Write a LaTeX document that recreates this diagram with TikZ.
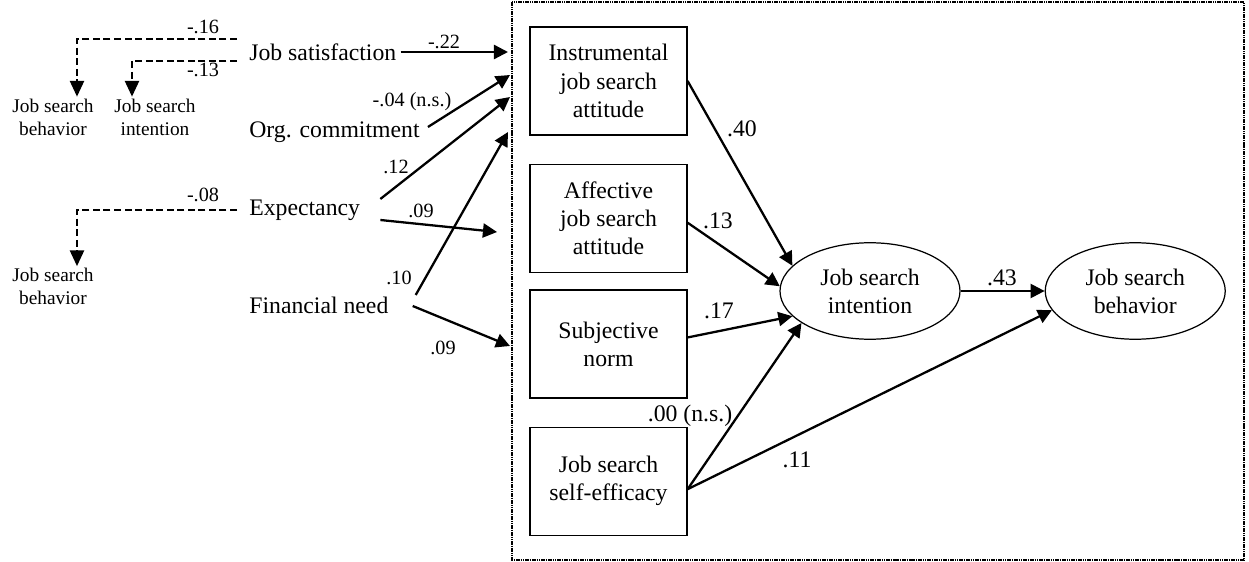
\documentclass[tikz,border=0pt]{standalone}
\usepackage{fontspec}
\setmainfont{Liberation Serif}
\usetikzlibrary{arrows.meta, shapes.geometric, positioning}

\newcommand\mainsz{\fontsize{13.5}{16}\selectfont}
\newcommand\coefsz{\fontsize{11.5}{13.5}\selectfont}
\newcommand\outsz{\fontsize{11}{13}\selectfont}

\begin{document}
\begin{tikzpicture}[
  node distance=0.56cm and 1.68cm,
  box/.style={rectangle, draw, line width=0.7pt,
              minimum width=3.14cm, minimum height=2.16cm,
              font=\mainsz, align=center, inner sep=1pt},
  latent/.style={ellipse, draw, line width=0.7pt,
                 minimum width=3.6cm, minimum height=1.93cm,
                 font=\mainsz, align=center, inner sep=0pt},
  var/.style={font=\mainsz, inner sep=0pt, anchor=west},
  outcome/.style={font=\outsz, align=center, inner sep=1pt},
  coef/.style={font=\coefsz, inner sep=0pt},
  incoef/.style={font=\mainsz, inner sep=0pt},
  arrow/.style={-{Triangle[length=8pt, width=8pt]}, line width=1.3pt},
  dasharrow/.style={-{Triangle[length=9pt, width=8pt]}, line width=1.3pt,
                    dash pattern=on 4pt off 2pt},
  frame/.style={draw, line width=1.5pt, dash pattern=on 0.9pt off 0.4pt},
]
  \useasboundingbox (0,0) rectangle (24.98,-11.24);

  % model frame
  \draw[frame] (10.24,-0.04) rectangle (24.88,-11.2);

  % TPB predictors
  \node[box] (instr) at (12.17,-1.62) {Instrumental\\job search\\attitude};
  \node[box, below=0.56cm of instr] (affect) {Affective\\job search\\attitude};
  \node[box, below=0.33cm of affect] (subj) {Subjective\\norm};
  \node[box, below=0.56cm of subj] (effic) {Job search\\self-efficacy};

  \node[latent] (intent) at (17.40,-5.82) {Job search\\intention};
  \node[latent, right=of intent] (behav) {Job search\\behavior};

  % antecedents
  \node[var] (sat)    at (4.98,-1.04) {Job satisfaction};
  \node[var] (commit) at (4.98,-2.64) {Org. commitment};
  \node[var] (expect) at (4.98,-4.20) {Expectancy};
  \node[var] (need)   at (4.98,-6.10) {Financial need};

  \node[outcome] (jsbA) at (1.06,-2.34) {Job search\\behavior};
  \node[outcome] (jsiA) at (3.10,-2.34) {Job search\\intention};
  \node[outcome] (jsbB) at (1.06,-5.73) {Job search\\behavior};

  % direct effects outside the model
  \draw[dasharrow] ([xshift=-0.24cm,yshift=0.26cm]sat.west) -| ([xshift=0.48cm]jsbA.north);
  \draw[dasharrow] ([xshift=-0.24cm,yshift=-0.18cm]sat.west) -| ([xshift=-0.46cm]jsiA.north);
  \draw[dasharrow] ([xshift=-0.24cm]expect.west) -| ([xshift=0.48cm]jsbB.north);

  \coordinate (inSat)   at (10.16,-1.04);
  \coordinate (inCom)   at (10.20,-1.50);
  \coordinate (inExpA)  at (10.20,-1.94);
  \coordinate (inNeedA) at (10.16,-2.64);
  \coordinate (inExpB)  at (9.94,-4.64);
  \coordinate (inNeedB) at (10.20,-6.92);

  \draw[arrow] ([xshift=0.08cm]sat.east) -- (inSat);
  \draw[arrow] ([xshift=0.16cm,yshift=0.1cm]commit.east) -- (inCom);
  \draw[arrow] ([xshift=0.4cm,yshift=0.22cm]expect.east) -- (inExpA);
  \draw[arrow] ([xshift=0.4cm,yshift=-0.2cm]expect.east) -- (inExpB);
  \draw[arrow] ([xshift=0.54cm,yshift=0.2cm]need.east) -- (inNeedA);
  \draw[arrow] ([xshift=0.48cm,yshift=-0.02cm]need.east) -- (inNeedB);

  % paths inside the model
  \draw[arrow] (instr.east) -- (intent.162);
  \draw[arrow] ([yshift=-0.09cm]affect.east) -- (intent.177);
  \draw[arrow] ([yshift=0.13cm]subj.east) -- (intent.198);
  \draw[arrow] ([yshift=-0.16cm]effic.east) -- (intent.205);
  \draw[arrow] ([yshift=-0.16cm]effic.east) -- (behav.193);
  \draw[arrow] (intent) -- (behav);

  % coefficients
  \node[coef] (c16)  at (4.06,-0.54) {-.16};
  \node[coef] (c13)  at (4.06,-1.40) {-.13};
  \node[coef] (c08)  at (4.06,-3.90) {-.08};
  \node[coef] (c22)  at (8.88,-0.84) {-.22};
  \node[coef] (c04)  at (8.24,-2.04) {-.04 (n.s.)};
  \node[coef] (c12)  at (7.92,-3.34) {.12};
  \node[coef] (c09a) at (8.42,-4.22) {.09};
  \node[coef] (c10)  at (7.98,-5.56) {.10};
  \node[coef] (c09b) at (8.86,-6.96) {.09};

  \node[incoef] (c40)  at (14.84,-2.58) {.40};
  \node[incoef] (c13i) at (14.36,-4.42) {.13};
  \node[incoef] (c17)  at (14.38,-6.22) {.17};
  \node[incoef] (c00)  at (13.80,-8.32) {.00 (n.s.)};
  \node[incoef] (c11)  at (15.94,-9.20) {.11};
  \node[incoef] (c43)  at (20.04,-5.56) {.43};
\end{tikzpicture}
\end{document}
